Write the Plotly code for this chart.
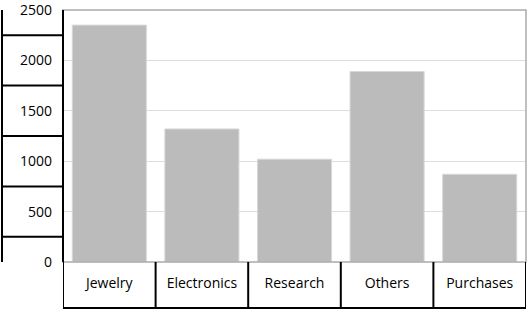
import plotly.graph_objects as go

categories = ["Jewelry", "Electronics", "Research", "Others", "Purchases"]
values = [2350, 1320, 1020, 1890, 870]
y_ticks = [0, 500, 1000, 1500, 2000, 2500]
y_separators = [250, 750, 1250, 1750, 2250]

W, H = 530, 311
ML, MR, MT, MB = 63, 4, 10, 49
PW = W - ML - MR
PH = H - MT - MB

fig = go.Figure()
fig.add_trace(go.Bar(
    x=categories, y=values,
    marker=dict(color="#bbbbbb", line=dict(color="#d8d8d8", width=1)),
    hoverinfo="x+y",
))

shapes = []
# plot border (gray)
shapes.append(dict(type="rect", xref="paper", yref="paper", x0=0, x1=1, y0=0, y1=1,
                   line=dict(color="#aaaaaa", width=1.5), layer="above"))
# left axis black line
shapes.append(dict(type="line", xref="paper", yref="paper", x0=0, x1=0, y0=0, y1=1,
                   line=dict(color="black", width=2), layer="above"))
# outer left line
xl = (2 - ML) / PW
shapes.append(dict(type="line", xref="paper", yref="paper", x0=xl, x1=xl, y0=0, y1=1,
                   line=dict(color="black", width=2)))
# y separators
for s in y_separators:
    shapes.append(dict(type="line", xref="paper", yref="y", x0=xl, x1=0, y0=s, y1=s,
                       line=dict(color="black", width=2)))
# x category boxes
yb = -(46) / PH
for i in range(len(categories) + 1):
    shapes.append(dict(type="line", xref="x", yref="paper", x0=i - 0.5, x1=i - 0.5,
                       y0=0, y1=yb, line=dict(color="black", width=2)))
shapes.append(dict(type="line", xref="x", yref="paper", x0=-0.5, x1=len(categories) - 0.5,
                   y0=yb, y1=yb, line=dict(color="black", width=2)))

fig.update_layout(
    width=W, height=H,
    margin=dict(l=ML, r=MR, t=MT, b=MB),
    paper_bgcolor="white", plot_bgcolor="white",
    font=dict(family="Open Sans, Noto Sans, sans-serif", size=14, color="black"),
    bargap=0.2,
    showlegend=False,
    shapes=shapes,
    xaxis=dict(range=[-0.5, len(categories) - 0.5], showgrid=False, showline=False,
               ticks="", ticklabelstandoff=11, tickfont=dict(size=14), automargin=False),
    yaxis=dict(range=[0, 2500], tickvals=y_ticks, showgrid=True, gridcolor="#dddddd",
               gridwidth=1, zeroline=False, showline=False, ticks="",
               ticklabelstandoff=10, tickfont=dict(size=14), automargin=False,
               ticklabeloverflow="allow"),
)

fig.write_html("out.html")
